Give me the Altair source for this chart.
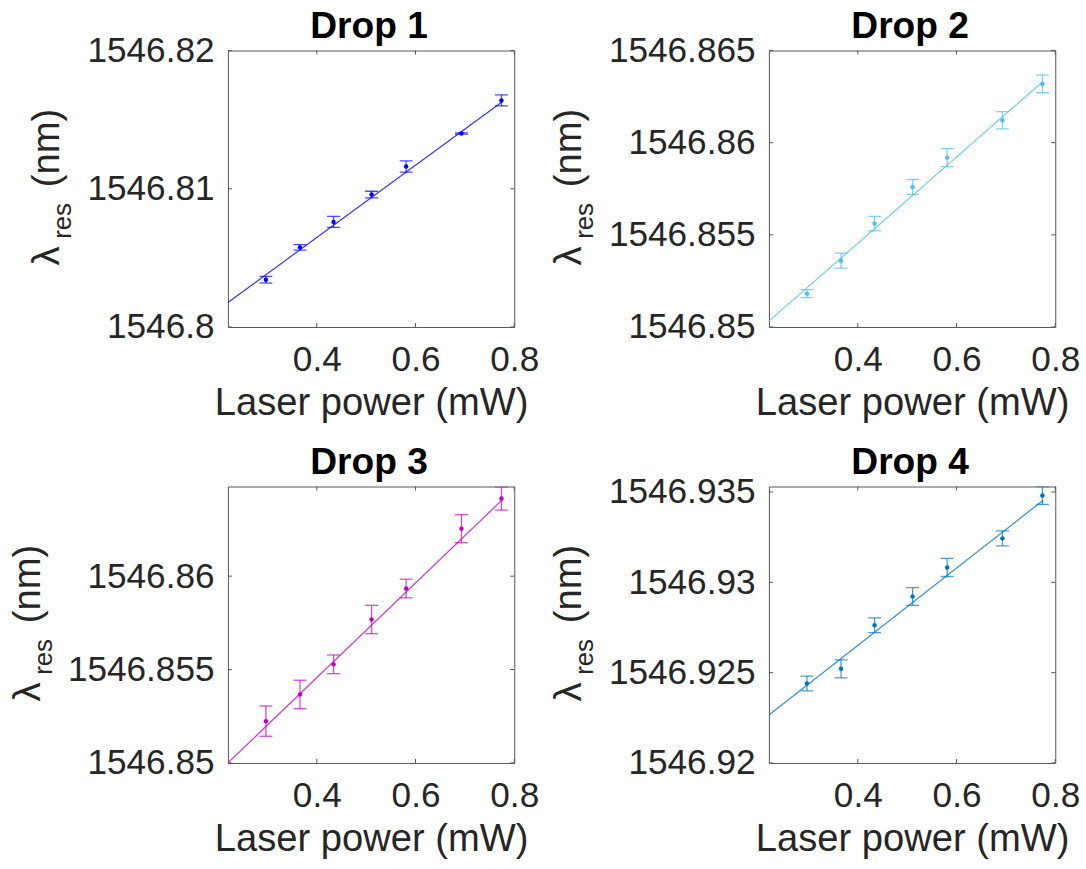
import altair as alt
import pandas as pd

# ---------------- data ----------------
power_mw = [0.297, 0.366, 0.434, 0.511, 0.581, 0.693, 0.774]

drop_titles = ["Drop 1", "Drop 2", "Drop 3", "Drop 4"]

drop1_nm = [1546.80342, 1546.80576, 1546.80760, 1546.80958, 1546.81161, 1546.81400, 1546.81639]
drop1_err = [0.00024, 0.00020, 0.00040, 0.00024, 0.00040, 0.00004, 0.00040]

drop2_nm = [1546.85181, 1546.85360, 1546.85561, 1546.85760, 1546.85919, 1546.86122, 1546.86319]
drop2_err = [0.00022, 0.00041, 0.00039, 0.00041, 0.00049, 0.00047, 0.00048]

drop3_nm = [1546.85224, 1546.85367, 1546.85528, 1546.85768, 1546.85934, 1546.86254, 1546.86416]
drop3_err = [0.00081, 0.00076, 0.00050, 0.00076, 0.00050, 0.00075, 0.00062]

drop4_nm = [1546.92440, 1546.92521, 1546.92762, 1546.92921, 1546.93082, 1546.93243, 1546.93480]
drop4_err = [0.00041, 0.00050, 0.00041, 0.00049, 0.00050, 0.00041, 0.00049]

# linear-fit line end points
fit_power = [0.22, 0.775]
drop1_fit = [1546.80177, 1546.81627]
drop2_fit = [1546.85032, 1546.86332]
drop3_fit = [1546.85000, 1546.86407]
drop4_fit = [1546.92265, 1546.93453]

x_domain = [0.22, 0.8]
x_ticks = [0.4, 0.6, 0.8]

y_domains = [
    [1546.80, 1546.82],
    [1546.85, 1546.865],
    [1546.85, 1546.8648],
    [1546.92, 1546.9353],
]
y_ticks = [
    [1546.80, 1546.81, 1546.82],
    [1546.85, 1546.855, 1546.86, 1546.865],
    [1546.85, 1546.855, 1546.86],
    [1546.92, 1546.925, 1546.93, 1546.935],
]

colors = ["#0000FF", "#4DBEEE", "#BF00BF", "#0072BD"]

# ---------------- styling ----------------
FONT = "Liberation Sans"
TXT = "#262626"
FRAME = "#555555"
W, H = 289, 279
TICK_FS = 35.5
LABEL_FS = 38.5
TITLE_FS = 37.5


def panel(title, ys, errs, fit, color, ydom, yvals, ylab_x):
    df = pd.DataFrame({
        "p": power_mw,
        "lam": ys,
        "lo": [v - e for v, e in zip(ys, errs)],
        "hi": [v + e for v, e in zip(ys, errs)],
    })
    fit_df = pd.DataFrame({"p": fit_power, "lam": fit})
    xt_df = pd.DataFrame({"p": x_ticks})
    yt_df = pd.DataFrame({"lam": yvals})

    xs = alt.Scale(domain=x_domain, nice=False, zero=False)
    ysc = alt.Scale(domain=ydom, nice=False, zero=False)
    xaxis = alt.Axis(values=x_ticks, format=".1f", title="Laser power (mW)",
                     grid=False, ticks=False, domain=False, labelFlush=False,
                     labelFont=FONT, labelFontSize=TICK_FS, labelColor=TXT, labelPadding=16,
                     titleFont=FONT, titleFontSize=LABEL_FS, titleFontWeight="normal",
                     titleColor=TXT, titlePadding=7, labelOverlap=False)
    yaxis = alt.Axis(values=yvals, format="~f", title=None,
                     grid=False, ticks=False, domain=False, labelFlush=False,
                     labelFont=FONT, labelFontSize=TICK_FS, labelColor=TXT, labelPadding=14,
                     labelOverlap=False)

    def X(f):
        return alt.X(f, type="quantitative", scale=xs, axis=xaxis)

    def Y(f):
        return alt.Y(f, type="quantitative", scale=ysc, axis=yaxis)

    line = alt.Chart(fit_df).mark_line(color=color, strokeWidth=1.2, opacity=0.8, clip=True).encode(
        x=X("p"), y=Y("lam"))
    stems = alt.Chart(df).mark_rule(color=color, strokeWidth=1.3, opacity=0.7, clip=True).encode(
        x=X("p"), y=Y("lo"), y2="hi:Q")
    cap_lo = alt.Chart(df).mark_tick(orient="horizontal", size=13, thickness=1.3, color=color,
                                     opacity=0.7, clip=True).encode(x=X("p"), y=Y("lo"))
    cap_hi = alt.Chart(df).mark_tick(orient="horizontal", size=13, thickness=1.3, color=color,
                                     opacity=0.7, clip=True).encode(x=X("p"), y=Y("hi"))
    pts = alt.Chart(df).mark_circle(size=20, color=color, opacity=1).encode(x=X("p"), y=Y("lam"))

    xt_bot = alt.Chart(xt_df).mark_rule(color=FRAME, strokeWidth=1).encode(
        x=X("p"), y=alt.value(H), y2=alt.value(H - 4))
    xt_top = alt.Chart(xt_df).mark_rule(color=FRAME, strokeWidth=1).encode(
        x=X("p"), y=alt.value(0), y2=alt.value(4))
    yt_left = alt.Chart(yt_df).mark_rule(color=FRAME, strokeWidth=1).encode(
        y=Y("lam"), x=alt.value(0), x2=alt.value(4))
    yt_right = alt.Chart(yt_df).mark_rule(color=FRAME, strokeWidth=1).encode(
        y=Y("lam"), x=alt.value(W), x2=alt.value(W - 4))

    one = pd.DataFrame({"a": [0]})
    title_txt = alt.Chart(one).mark_text(text=title, align="center", baseline="alphabetic",
                                         font=FONT, fontSize=TITLE_FS, fontWeight="bold",
                                         color="black").encode(
        x=alt.value(W / 2 - 2), y=alt.value(-13))
    lam_txt = alt.Chart(one).mark_text(text="λ", angle=270, align="left", baseline="alphabetic",
                                       font=FONT, fontSize=LABEL_FS, color=TXT).encode(
        x=alt.value(ylab_x), y=alt.value(217))
    res_txt = alt.Chart(one).mark_text(text="res", angle=270, align="left", baseline="alphabetic",
                                       font=FONT, fontSize=26, color=TXT).encode(
        x=alt.value(ylab_x + 12), y=alt.value(190))
    nm_txt = alt.Chart(one).mark_text(text="(nm)", angle=270, align="left", baseline="alphabetic",
                                      font=FONT, fontSize=LABEL_FS, color=TXT).encode(
        x=alt.value(ylab_x), y=alt.value(138))

    return alt.layer(line, stems, cap_lo, cap_hi, pts, xt_bot, xt_top, yt_left, yt_right,
                     title_txt, lam_txt, res_txt, nm_txt).properties(width=W, height=H)


series = [drop1_nm, drop2_nm, drop3_nm, drop4_nm]
errors = [drop1_err, drop2_err, drop3_err, drop4_err]
fits = [drop1_fit, drop2_fit, drop3_fit, drop4_fit]
ylab_xs = [-170, -190, -190, -190]

panels = [panel(drop_titles[i], series[i], errors[i], fits[i], colors[i],
                y_domains[i], y_ticks[i], ylab_xs[i]) for i in range(4)]

chart = alt.concat(*panels, columns=2, spacing={"row": 20, "column": 9}).properties(
    padding={"left": 8, "top": 3, "right": 5, "bottom": 5},
    background="white",
).configure_view(stroke=FRAME, strokeWidth=1)

chart.save("out.html", embed_options={"renderer": "svg", "actions": False})
